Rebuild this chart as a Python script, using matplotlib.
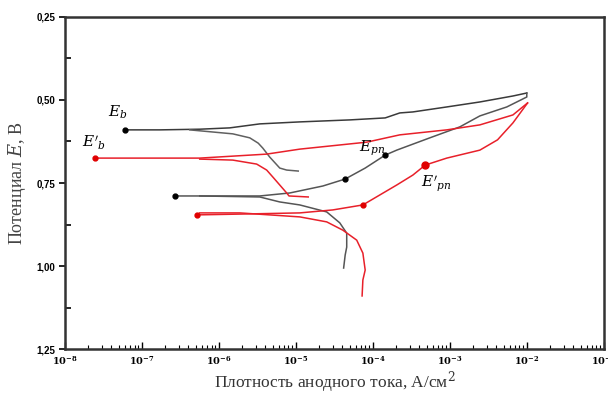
import numpy as np
import matplotlib
matplotlib.use("Agg")
import matplotlib.pyplot as plt
from matplotlib.ticker import FixedLocator, NullFormatter

plt.rcParams['mathtext.fontset'] = 'dejavuserif'

# Black specimen (log10 current, potential V)
blk_fwd_anodic_logi = [-7.22, -6.77, -6.25, -5.86, -5.47, -4.95, -4.30, -3.84, -3.65, -3.48, -3.04, -2.61, -2.18, -2.0]
blk_fwd_anodic_E = [0.590, 0.590, 0.588, 0.584, 0.572, 0.566, 0.560, 0.554, 0.539, 0.536, 0.521, 0.506, 0.488, 0.479]
blk_fwd_cath_logi = [-6.38, -5.82, -5.60, -5.49, -5.43, -5.34, -5.21, -5.12, -4.97]
blk_fwd_cath_E = [0.590, 0.602, 0.614, 0.630, 0.645, 0.672, 0.705, 0.711, 0.714]
blk_rev_logi = [-2.0, -2.0, -2.26, -2.61, -2.87, -3.26, -3.69, -3.84, -4.10, -4.36, -4.65, -5.08, -5.47, -5.73, -6.25, -6.57]
blk_rev_E = [0.479, 0.491, 0.521, 0.548, 0.581, 0.614, 0.651, 0.666, 0.705, 0.738, 0.759, 0.780, 0.789, 0.789, 0.789, 0.789]
blk_rev_cath_logi = [-6.25, -5.47, -5.21, -4.95, -4.60, -4.43, -4.34, -4.34, -4.36, -4.38]
blk_rev_cath_E = [0.789, 0.792, 0.807, 0.816, 0.837, 0.870, 0.901, 0.943, 0.967, 1.006]

# Red specimen
red_fwd_anodic_logi = [-7.61, -6.25, -5.38, -4.95, -4.08, -3.65, -3.04, -2.61, -2.18, -1.99]
red_fwd_anodic_E = [0.675, 0.675, 0.663, 0.648, 0.627, 0.605, 0.590, 0.575, 0.545, 0.509]
red_fwd_cath_logi = [-6.25, -5.82, -5.51, -5.38, -5.30, -5.21, -5.12, -5.09, -4.84]
red_fwd_cath_E = [0.678, 0.681, 0.693, 0.711, 0.732, 0.756, 0.780, 0.789, 0.792]
red_rev_logi = [-1.99, -2.18, -2.38, -2.61, -3.04, -3.32, -3.48, -3.69, -3.91, -4.13, -4.52, -4.95, -5.60, -6.29]
red_rev_E = [0.509, 0.569, 0.620, 0.651, 0.675, 0.696, 0.726, 0.756, 0.786, 0.816, 0.831, 0.840, 0.843, 0.846]
red_rev_cath_logi = [-6.25, -5.73, -4.95, -4.60, -4.39, -4.21, -4.13, -4.10, -4.13, -4.14]
red_rev_cath_E = [0.840, 0.840, 0.852, 0.867, 0.892, 0.922, 0.961, 1.012, 1.042, 1.090]

# Marked points
blk_pts_logi = [-7.22, -6.57, -4.36, -3.84]
blk_pts_E = [0.590, 0.789, 0.738, 0.666]
red_pts_logi = [-7.61, -6.29, -4.13]
red_pts_E = [0.675, 0.846, 0.816]
red_big_logi = [-3.32]
red_big_E = [0.696]

labels = ["$E_b$", "$E'_b$", "$E_{рп}$", "$E'_{рп}$"]
label_logi = [-7.31, -7.62, -4.01, -3.18]
label_E = [0.536, 0.630, 0.645, 0.753]

yticks = [0.25, 0.50, 0.75, 1.00, 1.25]
ytick_labels = ["0,25", "0,50", "0,75", "1,00", "1,25"]
xdecades = [-8, -7, -6, -5, -4, -3, -2, -1]

BLK = '#3a3a3a'
RED = '#e8202a'

fig = plt.figure(figsize=(6.08, 3.94), dpi=100)
ax = fig.add_axes([0.107, 0.114, 0.886, 0.843])

def p(lx):
    return 10.0 ** np.asarray(lx)

lw = 1.1
ax.plot(p(blk_fwd_anodic_logi), blk_fwd_anodic_E, color=BLK, lw=lw)
ax.plot(p(blk_fwd_cath_logi), blk_fwd_cath_E, color='#606060', lw=lw)
ax.plot(p(blk_rev_logi), blk_rev_E, color='#555555', lw=lw)
ax.plot(p(blk_rev_cath_logi), blk_rev_cath_E, color='#555555', lw=lw)
ax.plot(p(red_fwd_anodic_logi), red_fwd_anodic_E, color=RED, lw=lw)
ax.plot(p(red_fwd_cath_logi), red_fwd_cath_E, color=RED, lw=lw)
ax.plot(p(red_rev_logi), red_rev_E, color=RED, lw=lw)
ax.plot(p(red_rev_cath_logi), red_rev_cath_E, color=RED, lw=lw)

ax.plot(p(blk_pts_logi), blk_pts_E, 'o', color='black', ms=3.5, ls='none')
ax.plot(p(red_pts_logi), red_pts_E, 'o', color='#e00000', ms=3.5, ls='none')
ax.plot(p(red_big_logi), red_big_E, 'o', color='#e00000', ms=5, ls='none')

for t, lx, e in zip(labels, label_logi, label_E):
    ax.text(10.0 ** lx, e, t, fontsize=11, ha='center', va='center', color='black')

ax.set_xscale('log')
ax.set_xlim(1e-8, 1e-1)
ax.set_ylim(1.25, 0.25)

ax.set_xticks([10.0 ** d for d in xdecades])
ax.set_xticklabels(["$\\mathbf{10^{%d}}$" % d for d in xdecades], fontsize=7)
minors = [m * 10.0 ** d for d in xdecades[:-1] for m in range(2, 10)]
ax.xaxis.set_minor_locator(FixedLocator(minors))
ax.xaxis.set_minor_formatter(NullFormatter())
ax.tick_params(axis='x', which='major', direction='in', length=5, width=1, pad=4)
ax.tick_params(axis='x', which='minor', direction='in', length=3, width=0.8)

ax.set_yticks(yticks)
ax.set_yticklabels(ytick_labels, fontsize=7, fontweight='bold', family='Liberation Sans')
ax.yaxis.set_minor_locator(FixedLocator([0.375, 0.625, 0.875, 1.125]))
ax.tick_params(axis='y', which='major', direction='out', length=4, width=1.2, pad=3)
ax.tick_params(axis='y', which='minor', direction='in', length=4, width=1.2)

for s in ax.spines.values():
    s.set_linewidth(1.8)
    s.set_color('#333333')

ax.set_ylabel("Потенциал $\\mathit{E}$, В", fontsize=13, family='Liberation Serif', color='#444444', labelpad=6)
ax.set_xlabel("Плотность анодного тока, А/см$^2$", fontsize=12.5, family='Liberation Serif', color='#333333', labelpad=1)

fig.savefig("out.png", dpi=100)
